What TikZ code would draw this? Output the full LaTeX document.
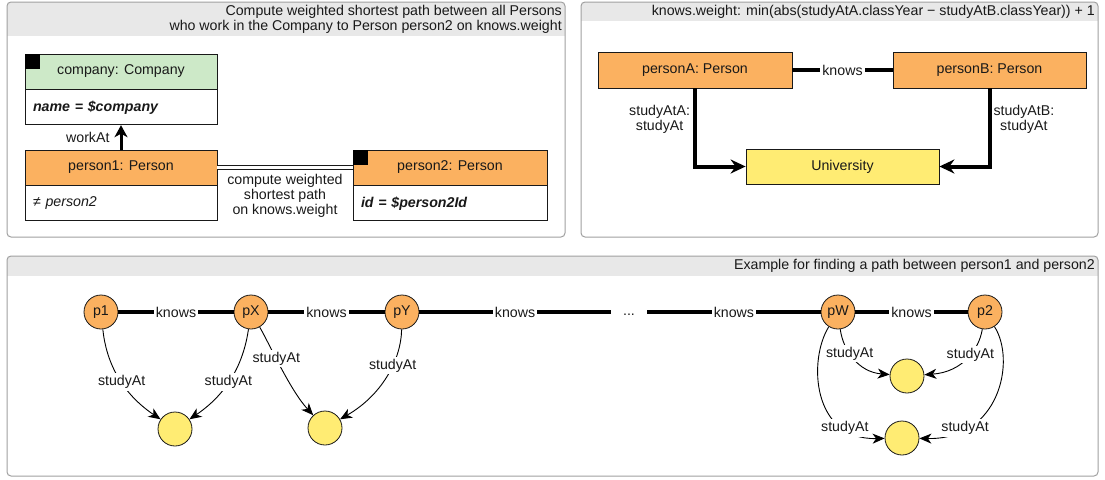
\documentclass[tikz,border=0pt]{standalone}
\usepackage{fontspec}
\setmainfont{Liberation Sans}
\usetikzlibrary{arrows.meta}

\definecolor{personfill}{RGB}{251,177,96}
\definecolor{companyfill}{RGB}{205,233,200}
\definecolor{unifill}{RGB}{255,236,115}
\definecolor{headfill}{RGB}{232,232,232}
\definecolor{frameline}{RGB}{160,160,160}
\definecolor{ink}{RGB}{25,25,25}

\begin{document}
\begin{tikzpicture}[x=1pt, y=-1pt,
  font=\fontsize{14.2}{15.2}\selectfont,
  panel/.style={draw=frameline, line width=1pt, rounded corners=4pt},
  headtext/.style={anchor=east, align=right, inner sep=0, text=ink},
  umlhead/.style={draw=ink, line width=0.8pt, minimum height=35pt, inner sep=0, text=ink},
  umlattr/.style={draw=ink, fill=white, line width=0.8pt, minimum height=35pt,
    inner xsep=8pt, inner ysep=0pt, align=left, anchor=north, text=ink},
  marker/.style={fill=black, minimum size=15pt, inner sep=0, anchor=north west},
  classbox/.style={draw=ink, line width=0.8pt, fill=personfill, minimum height=36pt, inner sep=0, text=ink},
  pnode/.style={circle, draw=ink, line width=0.8pt, fill=personfill, minimum size=34pt, inner sep=0, text=ink},
  unode/.style={circle, draw=ink, line width=0.8pt, fill=unifill, minimum size=34pt, inner sep=0},
  knowsline/.style={line width=4pt, draw=black},
  lbl/.style={fill=white, inner sep=2pt, text=ink},
  thickarrow/.style={line width=4pt, -{Stealth[length=15pt,width=14pt,inset=5pt]}},
  thinarrow/.style={line width=0.9pt, -{Stealth[length=12pt,width=10pt,inset=3.5pt]}}
]
\useasboundingbox (0,0) rectangle (1105,479);

% ---------- panel: weighted shortest path ----------
\begin{scope}
  \clip[rounded corners=4pt] (7,2) rectangle (565,237);
  \fill[headfill] (7,2) rectangle (565,36);
\end{scope}
\draw[panel] (7,2) rectangle (565,237);
\node[headtext] (title1) at (562,19.5)
  {Compute weighted shortest path between all Persons\\who work in the Company to Person person2 on knows.weight};

\node[umlhead, fill=companyfill, minimum width=192pt] (company) at (121,71.5) {company: Company};
\node[umlattr, text width=176pt] (companyattr) at (company.south) {\textbf{\textit{name = \$company}}};
\node[marker] (companymark) at (company.north west) {};

\node[umlhead, fill=personfill, minimum width=192pt] (person1) at (121,167.5) {person1: Person};
\node[umlattr, text width=176pt] (person1attr) at (person1.south) {\textit{≠ person2}};

\node[umlhead, fill=personfill, minimum width=194pt] (person2) at (450,167.5) {person2: Person};
\node[umlattr, text width=178pt] (person2attr) at (person2.south) {\textbf{\textit{id = \$person2Id}}};
\node[marker] (person2mark) at (person2.north west) {};

\draw[line width=3pt, draw=black, -{Stealth[length=12pt,width=13pt,inset=3.5pt]}]
  (person1) -- node[left=10pt, inner sep=0, text=ink] (workat) {workAt} (companyattr);

\draw[draw=ink, line width=0.8pt, double=white, double distance=2.5pt]
  (person1) -- node[below=6pt, align=center, inner sep=0, text=ink] (pathlbl)
  {compute weighted\\shortest path\\on knows.weight} (person2);

% ---------- panel: edge weight ----------
\begin{scope}
  \clip[rounded corners=4pt] (581,2) rectangle (1098,237);
  \fill[headfill] (581,2) rectangle (1098,21);
\end{scope}
\draw[panel] (581,2) rectangle (1098,237);
\node[headtext] (title2) at (1095,12)
  {knows.weight: min(abs(studyAtA.classYear − studyAtB.classYear)) + 1};

\node[classbox, minimum width=194pt] (personA) at (695,70) {personA: Person};
\node[classbox, minimum width=193pt] (personB) at (989.5,70) {personB: Person};
\node[classbox, fill=unifill, minimum width=193pt, minimum height=35pt] (univ) at (842.5,166.5) {University};

\draw[knowsline] (personA) -- node[lbl] (knowsAB) {knows} (personB);
\draw[thickarrow] (personA.south) |- node[pos=0.2, left, inner sep=3pt, align=center, text=ink] (labA)
  {studyAtA:\\studyAt} (univ.west);
\draw[thickarrow] (personB.south) |- node[pos=0.2, right, inner sep=2pt, align=center, text=ink] (labB)
  {studyAtB:\\studyAt} (univ.east);

% ---------- panel: example path ----------
\begin{scope}
  \clip[rounded corners=4pt] (7,256) rectangle (1098,476);
  \fill[headfill] (7,256) rectangle (1098,276);
\end{scope}
\draw[panel] (7,256) rectangle (1098,476);
\node[headtext] (title3) at (1095,266)
  {Example for finding a path between person1 and person2};

\node[pnode] (p1) at (101,312) {p1};
\node[pnode] (pX) at (251,312) {pX};
\node[pnode] (pY) at (402,312) {pY};
\node[pnode] (pW) at (838,312) {pW};
\node[pnode] (p2) at (985,312) {p2};
\node[minimum width=36pt, minimum height=12pt, inner sep=0, text height=9pt, text depth=3pt, text=ink]
  (dots) at (629,312) {...};

\node[unode] (u1) at (175,429) {};
\node[unode] (u2) at (325,428) {};
\node[unode] (u3) at (907,376) {};
\node[unode] (u4) at (902,438) {};

\draw[knowsline] (p1) -- node[lbl] {knows} (pX);
\draw[knowsline] (pX) -- node[lbl] {knows} (pY);
\draw[knowsline] (pY) -- node[lbl] {knows} (dots);
\draw[knowsline] (dots) -- node[lbl] {knows} (pW);
\draw[knowsline] (pW) -- node[lbl] {knows} (p2);

\draw[thinarrow] (p1) .. controls (106,360) and (120,392) .. node[lbl, pos=0.57] {studyAt} (u1);
\draw[thinarrow] (pX) .. controls (244,360) and (230,392) .. node[lbl, pos=0.57] {studyAt} (u1);
\draw[thinarrow] (pX) .. controls (270,345) and (290,390) .. node[lbl, pos=0.4] {studyAt} (u2);
\draw[thinarrow] (pY) .. controls (401,360) and (382,395) .. node[lbl, pos=0.38] {studyAt} (u2);

\draw[thinarrow] (pW) .. controls (843,350) and (858,372) .. node[lbl, pos=0.4] {studyAt} (u3);
\draw[thinarrow] (p2) .. controls (979,350) and (962,372) .. node[lbl, pos=0.42] {studyAt} (u3);
\draw[thinarrow] (pW) .. controls (808,360) and (812,440) .. node[lbl, pos=0.77] {studyAt} (u4);
\draw[thinarrow] (p2) .. controls (1016,360) and (1000,440) .. node[lbl, pos=0.77] {studyAt} (u4);
\end{tikzpicture}
\end{document}
